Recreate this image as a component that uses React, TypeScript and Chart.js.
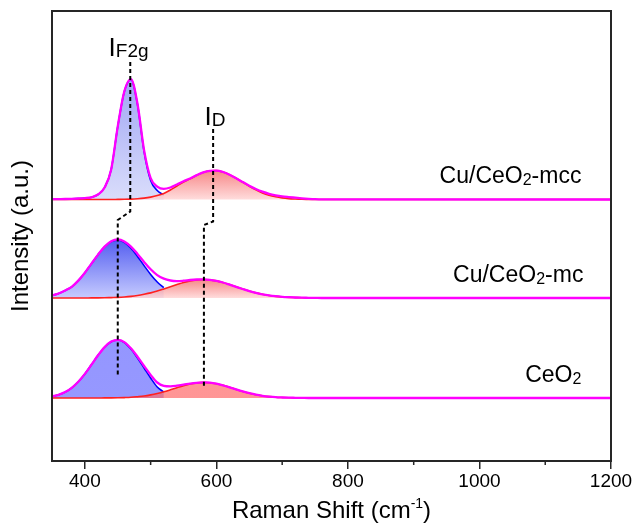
import React, { useEffect, useRef } from 'react';
import { Chart, registerables } from 'chart.js';

Chart.register(...registerables);

const FONT = '"Liberation Sans", Arial, Helvetica, sans-serif';

// Raman shift grid (cm-1)
const ramanShift = [350, 360, 370, 380, 390, 400, 410, 420, 430, 440, 450, 460, 470, 480, 490, 500, 510, 520, 530, 540, 550, 560, 570, 580, 590, 600, 610, 620, 630, 640, 650, 660, 670, 680, 690, 700, 710, 720, 730, 740, 750, 760, 1200];

// vertical offsets of the stacked spectra (a.u.)
const baseCeO2 = 63;
const baseMc = 163;
const baseMcc = 261.5;

// CeO2
const ceo2F2g = [1.6, 3.2, 5.9, 10.2, 16.3, 24.1, 33.3, 42.7, 50.8, 56.3, 58.0, 55.5, 49.0, 40.0, 30.0, 20.0, 11.0, 6.0];
const ceo2D = [0, 0, 0, 0, 0, 0, 0, 0, 0.1, 0.1, 0.2, 0.4, 0.7, 1.3, 2.0, 3.1, 4.5, 6.2, 8.2, 10.3, 12.3, 14.0, 15.1, 15.6, 15.3, 14.3, 12.7, 10.7, 8.6, 6.6, 4.8, 3.3, 2.2, 1.4, 0.8, 0.5, 0.3, 0.2, 0.1, 0, 0, 0, 0];
const ceo2Fit = [1.6, 3.2, 5.9, 10.2, 16.3, 24.1, 33.3, 42.7, 50.9, 56.4, 58.2, 55.9, 49.7, 41.3, 32.0, 23.1, 15.5, 12.2, 11.7, 12.3, 13.3, 14.4, 15.2, 15.6, 15.3, 14.3, 12.7, 10.7, 8.6, 6.6, 4.8, 3.3, 2.2, 1.4, 0.8, 0.5, 0.3, 0.2, 0.1, 0, 0, 0, 0];

// Cu/CeO2-mc
const mcF2g = [2.5, 4.5, 7.5, 11.2, 17.4, 25.3, 34.3, 43.3, 51.2, 56.4, 58.0, 55.6, 49.8, 41.6, 32.4, 23.6, 16.0, 10.4];
const mcD = [0, 0, 0, 0, 0, 0, 0.1, 0.1, 0.2, 0.4, 0.6, 1.0, 1.6, 2.5, 3.7, 5.1, 6.9, 9.0, 11.2, 13.4, 15.5, 17.1, 18.1, 18.5, 18.1, 17.1, 15.5, 13.4, 11.2, 9.0, 6.9, 5.1, 3.7, 2.5, 1.6, 1.0, 0.6, 0.4, 0.2, 0.1, 0.05, 0, 0];
const mcFit = [2.5, 4.5, 7.5, 11.2, 17.4, 25.3, 34.4, 43.4, 51.4, 56.8, 58.6, 56.6, 51.4, 44.1, 36.1, 28.7, 22.9, 19.4, 17.5, 16.9, 17.3, 18.0, 18.5, 18.7, 18.2, 17.1, 15.5, 13.4, 11.2, 9.0, 6.9, 5.1, 3.7, 2.6, 1.8, 1.2, 0.8, 0.5, 0.3, 0.2, 0.1, 0, 0];

// Cu/CeO2-mcc
const mccF2g = [0.3, 0.4, 0.5, 0.7, 1.0, 1.4, 2.2, 5.0, 12.0, 30.0, 73.0, 108.0, 120.0, 95.0, 48.0, 19.0, 9.0, 4.5];
const mccD = [0, 0, 0, 0, 0, 0, 0, 0, 0, 0, 0.1, 0.2, 0.4, 0.8, 1.4, 2.4, 3.9, 6.1, 9.5, 13.5, 17.5, 20.6, 24.2, 27.1, 28.7, 28.9, 27.5, 24.8, 21.2, 17.2, 13.2, 9.6, 6.6, 4.3, 2.7, 1.6, 0.9, 0.5, 0.2, 0.1, 0, 0, 0];
const mccFit = [0.3, 0.4, 0.5, 0.7, 1.0, 1.4, 2.2, 5.0, 12.0, 30.0, 73.1, 108.2, 120.4, 95.8, 49.4, 21.4, 12.9, 10.6, 12.0, 15.0, 18.3, 21.0, 24.4, 27.2, 28.7, 28.9, 27.5, 24.8, 21.3, 17.5, 13.8, 10.5, 7.8, 5.7, 4.2, 3.1, 2.4, 1.8, 1.2, 0.7, 0.3, 0.1, 0];

// guide lines (dashed)
const guideF2gX = [469, 469, 450, 450];
const guideF2gY = [399, 249.5, 241, 86];
const guideDX = [595, 595, 581, 581];
const guideDY = [332, 239.5, 236, 73];

// axis ticks
const xMajorTicks = [400, 600, 800, 1000, 1200];
const xMinorTicks = [500, 700, 900, 1100];

type Part = { t: string; size: number; dy?: number };

// text labels
const labelMcc: Part[] = [{ t: 'Cu/CeO', size: 23 }, { t: '2', size: 16, dy: 2 }, { t: '-mcc', size: 23 }];
const labelMc: Part[] = [{ t: 'Cu/CeO', size: 23 }, { t: '2', size: 16, dy: 2 }, { t: '-mc', size: 23 }];
const labelCeO2: Part[] = [{ t: 'CeO', size: 23 }, { t: '2', size: 16, dy: 2 }];
const labelF2g: Part[] = [{ t: 'I', size: 26 }, { t: 'F2g', size: 19, dy: 1 }];
const labelD: Part[] = [{ t: 'I', size: 26 }, { t: 'D', size: 19, dy: 1 }];
const xTitle: Part[] = [{ t: 'Raman Shift (cm', size: 24 }, { t: '-1', size: 14, dy: -10 }, { t: ')', size: 24 }];
const yTitle = 'Intensity (a.u.)';

function pts(arr: number[], base: number) {
  return arr.map((v, i) => ({ x: ramanShift[i], y: base + v }));
}

function grad(base: number, arr: number[], top: string, bottom: string) {
  const peak = Math.max(...arr);
  return (ctx: any) => {
    const chart = ctx.chart;
    if (!chart.chartArea) return bottom;
    const y = chart.scales.y;
    const g = chart.ctx.createLinearGradient(0, y.getPixelForValue(base + peak), 0, y.getPixelForValue(base));
    g.addColorStop(0, top);
    g.addColorStop(1, bottom);
    return g;
  };
}

function drawParts(ctx: CanvasRenderingContext2D, parts: Part[], x: number, y: number, align: 'left' | 'right' | 'center') {
  let total = 0;
  for (const p of parts) {
    ctx.font = `${p.size}px ${FONT}`;
    total += ctx.measureText(p.t).width;
  }
  let cx = align === 'left' ? x : align === 'right' ? x - total : x - total / 2;
  ctx.textAlign = 'left';
  ctx.textBaseline = 'alphabetic';
  for (const p of parts) {
    ctx.font = `${p.size}px ${FONT}`;
    ctx.fillText(p.t, cx, y + (p.dy || 0));
    cx += ctx.measureText(p.t).width;
  }
}

const overlay = {
  id: 'overlay',
  afterDraw(chart: any) {
    const { ctx, chartArea: a, scales } = chart;
    const x = scales.x;
    const y = scales.y;
    ctx.save();
    ctx.strokeStyle = '#262626';
    ctx.lineWidth = 2;
    ctx.strokeRect(a.left, a.top, a.right - a.left, a.bottom - a.top);
    ctx.lineWidth = 1.5;
    ctx.beginPath();
    for (const v of xMinorTicks) {
      const px = x.getPixelForValue(v);
      ctx.moveTo(px, a.bottom);
      ctx.lineTo(px, a.bottom + 4);
    }
    ctx.stroke();
    ctx.fillStyle = '#000';
    drawParts(ctx, labelMcc, x.getPixelForValue(1155), y.getPixelForValue(baseMcc + 17), 'right');
    drawParts(ctx, labelMc, x.getPixelForValue(1158), y.getPixelForValue(baseMc + 16.5), 'right');
    drawParts(ctx, labelCeO2, x.getPixelForValue(1155), y.getPixelForValue(baseCeO2 + 16.5), 'right');
    drawParts(ctx, labelF2g, x.getPixelForValue(436), y.getPixelForValue(405), 'left');
    drawParts(ctx, labelD, x.getPixelForValue(582), y.getPixelForValue(336), 'left');
    drawParts(ctx, xTitle, (a.left + a.right) / 2, 518, 'center');
    ctx.restore();
  },
};

const curve = { pointRadius: 0, cubicInterpolationMode: 'monotone' as const };

function datasets() {
  const guide = (xs: number[], ys: number[]) => ({
    data: xs.map((v, i) => ({ x: v, y: ys[i] })),
    borderColor: '#000',
    borderWidth: 2,
    borderDash: [4, 3],
    pointRadius: 0,
    tension: 0,
    fill: false,
    order: 0,
  });
  const trace = (base: number, f2g: number[], d: number[], fit: number[], blueTop: string, blueBot: string, redTop: string, redBot: string) => [
    { ...curve, data: pts(fit, base), borderColor: '#ff00ff', borderWidth: 2.3, fill: false, order: 1 },
    { ...curve, data: pts(d, base), borderColor: '#ff2020', borderWidth: 1.6, fill: { value: base }, backgroundColor: grad(base, d, redTop, redBot), order: 2 },
    { ...curve, data: pts(f2g, base), borderColor: '#0000ff', borderWidth: 1.6, fill: { value: base }, backgroundColor: grad(base, f2g, blueTop, blueBot), order: 3 },
  ];
  return [
    guide(guideF2gX, guideF2gY),
    guide(guideDX, guideDY),
    ...trace(baseMcc, mccF2g, mccD, mccFit, 'rgb(160,166,244)', 'rgb(218,221,251)', 'rgba(245,115,115,0.85)', 'rgba(255,214,214,0.85)'),
    ...trace(baseMc, mcF2g, mcD, mcFit, 'rgb(84,94,240)', 'rgb(198,203,255)', 'rgba(245,115,115,0.85)', 'rgba(255,214,214,0.85)'),
    ...trace(baseCeO2, ceo2F2g, ceo2D, ceo2Fit, 'rgb(148,150,255)', 'rgb(150,152,255)', 'rgba(255,105,105,0.7)', 'rgba(255,105,105,0.7)'),
  ];
}

export default function App() {
  const ref = useRef<HTMLCanvasElement>(null);
  useEffect(() => {
    document.body.style.margin = '0';
    const canvas = ref.current as HTMLCanvasElement;
    const chart = new Chart(canvas, {
      type: 'line',
      data: { datasets: datasets() as any },
      options: {
        animation: false,
        responsive: false,
        devicePixelRatio: 1,
        layout: { padding: { top: 11, right: 22, left: 0, bottom: 0 } },
        plugins: { legend: { display: false }, tooltip: { enabled: false } },
        scales: {
          x: {
            type: 'linear',
            min: 350,
            max: 1200,
            afterFit: (s: any) => { s.height = 62; s.paddingLeft = 0; s.paddingRight = 0; },
            afterBuildTicks: (s: any) => { s.ticks = xMajorTicks.map((v) => ({ value: v })); },
            border: { display: false },
            grid: { drawOnChartArea: false, drawTicks: true, tickLength: 8, lineWidth: 1.5, color: '#262626' },
            ticks: { autoSkip: false, maxRotation: 0, padding: 1, color: '#000', font: { family: FONT, size: 19 }, callback: (v: any) => String(v) },
          },
          y: {
            type: 'linear',
            min: 0,
            max: 450,
            afterFit: (s: any) => { s.width = 52; s.paddingTop = 0; s.paddingBottom = 0; },
            border: { display: false },
            grid: { display: false },
            ticks: { display: false },
            title: { display: true, text: yTitle, color: '#000', font: { family: FONT, size: 24 }, padding: { top: 7, bottom: 0 } },
          },
        },
      },
      plugins: [overlay],
    });
    return () => chart.destroy();
  }, []);
  return (
    <div style={{ width: 633, height: 523 }}>
      <canvas ref={ref} width={633} height={523} style={{ display: 'block' }} />
    </div>
  );
}
